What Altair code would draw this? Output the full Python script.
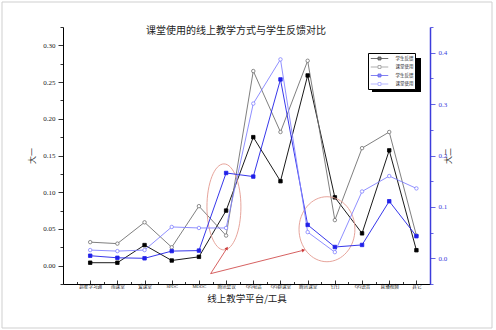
import altair as alt
import pandas as pd

# ---------------- data ----------------
categories = ["超星学习通", "雨课堂", "爱课堂", "SPOC", "MOOC", "腾讯会议", "QQ电话",
              "QQ群课堂", "腾讯课堂", "钉钉", "QQ语音", "直播视频", "其它"]
feedback_y1 = [0.004, 0.004, 0.028, 0.007, 0.012, 0.075, 0.175, 0.115, 0.259, 0.093, 0.044, 0.157, 0.021]
usage_y1 = [0.032, 0.030, 0.059, 0.025, 0.081, 0.041, 0.265, 0.182, 0.279, 0.062, 0.160, 0.182, 0.041]
feedback_y2 = [0.005, 0.001, 0.000, 0.014, 0.015, 0.166, 0.159, 0.348, 0.065, 0.022, 0.026, 0.111, 0.043]
usage_y2 = [0.016, 0.014, 0.016, 0.061, 0.059, 0.059, 0.301, 0.387, 0.051, 0.012, 0.130, 0.160, 0.136]

series_keys = ["学生反馈", "课堂使用", "学生反馈 ", "课堂使用 "]
series_colors = ["#000000", "#707070", "#2020e8", "#8282ff"]
series_fills = ["#000000", "#ffffff", "#2020e8", "#ffffff"]
series_shapes = ["square", "circle", "square", "circle"]

title_text = "课堂使用的线上教学方式与学生反馈对比"
x_title = "线上教学平台/工具"
y1_title = "大一"
y2_title = "大二"

# red annotation ellipses / arrows (data coordinates on the left scale)
ellipse_x = [4.92, 8.71]
ellipse_y = [0.080, 0.0496]
arrow_x = [4.43, 4.43]
arrow_y = [-0.0109, -0.0109]
arrow_x2 = [5.02, 7.83]
arrow_y2 = [0.0231, 0.0208]

# ---------------- tables ----------------
idx = list(range(len(categories)))
rows_left = []
for k, vals in zip(series_keys[:2], [feedback_y1, usage_y1]):
    for i, v in zip(idx, vals):
        rows_left.append({"i": i, "v": v, "s": k})
rows_right = []
for k, vals in zip(series_keys[2:], [feedback_y2, usage_y2]):
    for i, v in zip(idx, vals):
        rows_right.append({"i": i, "v": v, "s": k})
df_left = pd.DataFrame(rows_left)
df_right = pd.DataFrame(rows_right)
df_all = pd.concat([df_left, df_right], ignore_index=True)
df_ell1 = pd.DataFrame({"i": ellipse_x[:1], "v": ellipse_y[:1]})
df_ell2 = pd.DataFrame({"i": ellipse_x[1:], "v": ellipse_y[1:]})
df_arrow = pd.DataFrame({"i": arrow_x, "v": arrow_y, "i2": arrow_x2, "v2": arrow_y2})
df_one = pd.DataFrame({"k": [0]})

W, H = 367, 257
SERIF = "Liberation Serif, Noto Sans CJK SC"
CJK = "Noto Sans CJK SC"
BLUE_AX = "#3c3cdc"

xscale = alt.Scale(domain=[-1, 12.5], nice=False, zero=False)
lscale = alt.Scale(domain=[-0.025, 0.325], nice=False, zero=False)
rscale = alt.Scale(domain=[-0.05, 0.45], nice=False, zero=False)

x_major = "abs(datum.value - round(datum.value)) < 0.01"
cat_expr = x_major + " ? [" + ",".join("'" + c + "'" for c in categories) + "][round(datum.value)] : ''"
x_tick_vals = [round(-0.5 + 0.5 * k, 2) for k in range(27)]
x_axis = alt.Axis(orient="bottom", values=x_tick_vals, labelExpr=cat_expr,
                  tickSize={"expr": "-4"}, tickColor="black", tickWidth=0.8,
                  tickDash={"condition": {"test": x_major, "value": [4, 0]}, "value": [2.5, 20]},
                  domain=True, domainColor="black", domainWidth=1, grid=False,
                  labelFont=SERIF, labelFontSize=4.6, labelColor="#222", labelPadding=3,
                  labelAngle=0, labelOverlap=False, labelFlush=False,
                  title=x_title, titleFont=CJK, titleFontSize=9.5, titleFontWeight="normal",
                  titleColor="#222", titlePadding=6)

l_major = "abs(datum.value*20 - round(datum.value*20)) < 0.001"
left_vals = [round(-0.025 + 0.025 * k, 3) for k in range(15)]
left_axis = alt.Axis(orient="left", values=left_vals,
                     labelExpr=l_major + " ? format(datum.value, '.2f') : ''",
                     tickSize=5, tickDash={"condition": {"test": l_major, "value": [5, 0]}, "value": [3, 20]},
                     tickColor="black", tickWidth=0.8, domainColor="black", domainWidth=1, grid=False,
                     labelFont=SERIF, labelFontSize=7, labelColor="#222", labelPadding=3,
                     title=y1_title, titleFont=CJK, titleFontSize=8, titleFontWeight="normal",
                     titleColor="#333", titlePadding=6, titleAngle=270)
r_major = "abs(datum.value*10 - round(datum.value*10)) < 0.001"
right_vals = [round(-0.05 + 0.05 * k, 3) for k in range(11)]
right_axis = alt.Axis(orient="right", values=right_vals,
                      labelExpr=r_major + " ? format(datum.value, '.1f') : ''",
                      tickSize=5, tickDash={"condition": {"test": r_major, "value": [5, 0]}, "value": [3, 20]},
                      tickColor=BLUE_AX, tickWidth=0.8, domainColor=BLUE_AX, domainWidth=1.5, grid=False,
                      labelFont=SERIF, labelFontSize=7, labelColor=BLUE_AX, labelPadding=3,
                      title=y2_title, titleFont=CJK, titleFontSize=8, titleFontWeight="normal",
                      titleColor="#333", titlePadding=6, titleAngle=270)

legend = alt.Legend(orient="none", legendX=305, legendY=26, title=None, direction="vertical",
                    fillColor="white", strokeColor="black", padding=1.5, rowPadding=0.5,
                    labelFont=CJK, labelFontSize=4.5, labelColor="#222", labelExpr="trim(datum.label)",
                    symbolType="M-2.5,0H-0.42M0.42,0H2.5M-0.42,-0.42H0.42V0.42H-0.42Z",
                    symbolSize=49, symbolStrokeWidth=0.8, symbolOffset=6, labelOffset=12)

cscale = alt.Scale(domain=series_keys, range=series_colors)
fscale = alt.Scale(domain=series_keys, range=series_fills)
sscale = alt.Scale(domain=series_keys, range=series_shapes)

frame = alt.Chart(df_one).mark_rect(fill="transparent", stroke="#cfcfcf", strokeWidth=1).encode(
    x=alt.value(-61), x2=alt.value(429), y=alt.value(-25), y2=alt.value(301))

title = alt.Chart(df_one).mark_text(text=title_text, font=CJK, fontSize=10, color="#222",
                                    baseline="middle", align="center").encode(
    x=alt.value(173), y=alt.value(4))

left_lines = alt.Chart(df_left).mark_line(strokeWidth=0.9).encode(
    x=alt.X("i:Q", scale=xscale, axis=x_axis),
    y=alt.Y("v:Q", scale=lscale, axis=left_axis),
    color=alt.Color("s:N", scale=cscale, legend=None), order="i:Q")
left_points = alt.Chart(df_left).mark_point(filled=False, size=12, strokeWidth=0.8, opacity=1).encode(
    x=alt.X("i:Q", scale=xscale, axis=None),
    y=alt.Y("v:Q", scale=lscale, axis=None),
    color=alt.Color("s:N", scale=cscale, legend=None),
    fill=alt.Fill("s:N", scale=fscale, legend=None),
    shape=alt.Shape("s:N", scale=sscale, legend=None))

# invisible (zero-size) points that only carry the legend
legend_pts = alt.Chart(df_all).mark_point(filled=False, size=0, strokeWidth=0.8).encode(
    x=alt.X("i:Q", scale=xscale, axis=None),
    y=alt.Y("v:Q", scale=lscale, axis=None),
    color=alt.Color("s:N", scale=cscale, legend=legend),
    fill=alt.Fill("s:N", scale=fscale, legend=legend))

ell1 = alt.Chart(df_ell1).mark_point(
    shape="M0,-1A0.395,1 0 1,1 0,1A0.395,1 0 1,1 0,-1Z", size=7396, filled=False,
    color="#e39a90", strokeWidth=0.9, opacity=1).encode(
    x=alt.X("i:Q", scale=xscale, axis=None), y=alt.Y("v:Q", scale=lscale, axis=None))
ell2 = alt.Chart(df_ell2).mark_point(
    shape="M0,-1A0.86,1 0 1,1 0,1A0.86,1 0 1,1 0,-1Z", size=4225, filled=False,
    color="#e39a90", strokeWidth=0.9, opacity=1).encode(
    x=alt.X("i:Q", scale=xscale, axis=None), y=alt.Y("v:Q", scale=lscale, axis=None))
arrows = alt.Chart(df_arrow).mark_rule(color="#cc3838", strokeWidth=0.8).encode(
    x=alt.X("i:Q", scale=xscale, axis=None), y=alt.Y("v:Q", scale=lscale, axis=None),
    x2="i2:Q", y2="v2:Q")
head1 = alt.Chart(df_arrow.iloc[:1]).mark_point(shape="triangle", filled=True, size=14, angle=33,
                                                  color="#cc3838", opacity=1).encode(
    x=alt.X("i2:Q", scale=xscale, axis=None), y=alt.Y("v2:Q", scale=lscale, axis=None))
head2 = alt.Chart(df_arrow.iloc[1:]).mark_point(shape="triangle", filled=True, size=14, angle=76,
                                                  color="#cc3838", opacity=1).encode(
    x=alt.X("i2:Q", scale=xscale, axis=None), y=alt.Y("v2:Q", scale=lscale, axis=None))

shadow = alt.Chart(df_one).mark_rect(fill="black").encode(
    x=alt.value(309), x2=alt.value(358), y=alt.value(31), y2=alt.value(65))

left_group = alt.layer(frame, title, left_lines, left_points, ell1, ell2, arrows, head1, head2,
                       shadow, legend_pts).resolve_axis(x="independent", y="independent").resolve_legend(
    color="independent", fill="independent", shape="independent")

right_lines = alt.Chart(df_right).mark_line(strokeWidth=0.9).encode(
    x=alt.X("i:Q", scale=xscale, axis=None),
    y=alt.Y("v:Q", scale=rscale, axis=right_axis),
    color=alt.Color("s:N", scale=cscale, legend=None), order="i:Q")
right_points = alt.Chart(df_right).mark_point(filled=False, size=12, strokeWidth=0.8, opacity=1).encode(
    x=alt.X("i:Q", scale=xscale, axis=None),
    y=alt.Y("v:Q", scale=rscale, axis=None),
    color=alt.Color("s:N", scale=cscale, legend=None),
    fill=alt.Fill("s:N", scale=fscale, legend=None),
    shape=alt.Shape("s:N", scale=sscale, legend=None))
right_group = alt.layer(right_lines, right_points).resolve_axis(x="independent", y="independent").resolve_legend(
    color="independent", fill="independent", shape="independent")

chart = alt.layer(left_group, right_group).resolve_scale(y="independent").resolve_axis(
    x="independent", y="independent").resolve_legend(
    color="independent", fill="independent", shape="independent").properties(
    width=W, height=H,
    padding={"left": 63, "top": 27, "right": 66, "bottom": 46},
    autosize=alt.AutoSizeParams(type="none"),
    background="white",
).configure_view(stroke=None)

chart.save("out.html", embed_options={"renderer": "svg", "actions": False})
